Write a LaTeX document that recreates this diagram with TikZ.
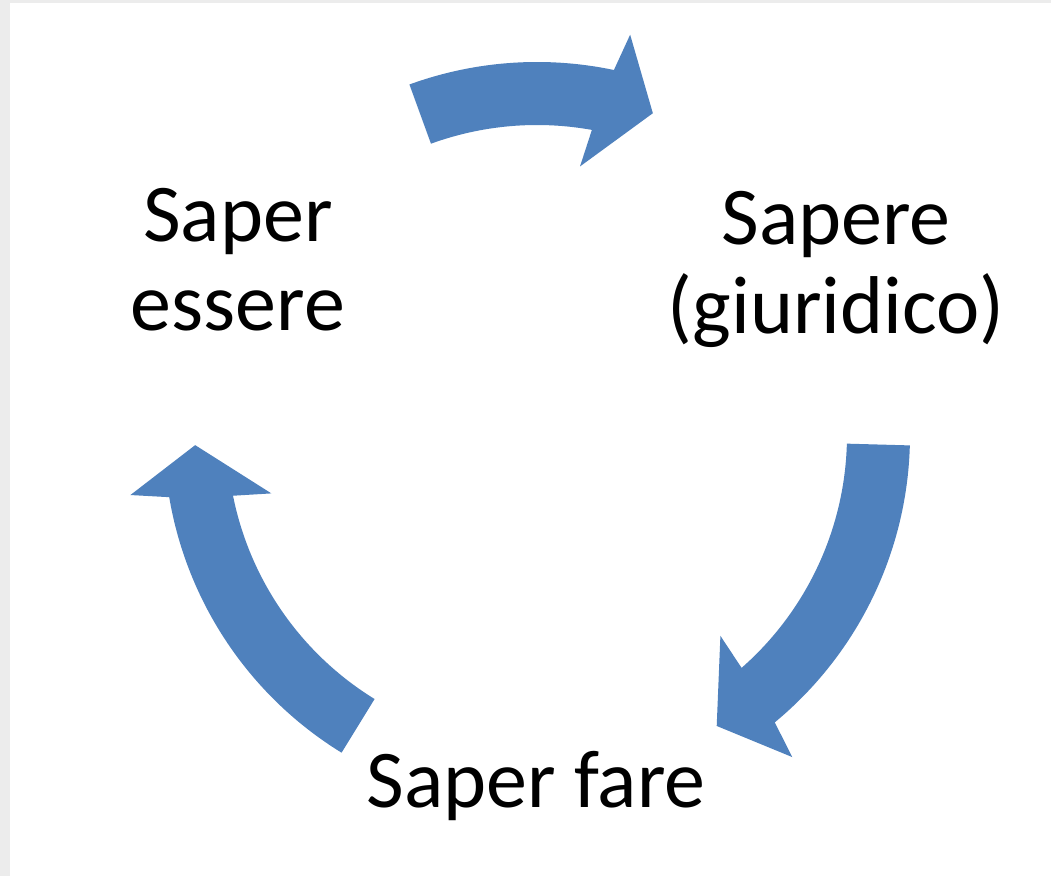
\documentclass[tikz,border=0pt]{standalone}
\usepackage{fontspec}
\setmainfont{Carlito}
\definecolor{arrowblue}{HTML}{4F81BD}
\definecolor{pagegray}{HTML}{ECECEC}
\tikzset{
  arrowfill/.style={fill=arrowblue, draw=none},
  labeltext/.style={inner sep=0pt, align=center, text=black, font=\fontsize{82}{89}\selectfont}
}
\newcommand\cycarrow[2]{%
  \fill[arrowfill] (#1:373pt) arc[start angle=#1, end angle={#2+7.9}, radius=373pt]
    -- ({#2+6.7}:411pt) -- (#2:342pt) -- ({#2+10.7}:272pt) -- ({#2+9.6}:310pt)
    arc[start angle={#2+9.6}, end angle=#1, radius=310pt] -- cycle;}
\begin{document}
\begin{tikzpicture}[x=1pt,y=1pt]
  \fill[pagegray] (0,0) rectangle (1051,876);
  \fill[white] (10,0) rectangle (1051,873);
  \useasboundingbox (0,0) rectangle (1051,876);
  \begin{scope}[shift={(537,441)}]
    \cycarrow{110}{70.2}
    \cycarrow{-1.6}{-58.3}
    \cycarrow{238.4}{181.7}
  \end{scope}
  \node[labeltext] (se) at (238,616) {Saper\\essere};
  \node[labeltext] (sg) at (836,607) {Sapere\\(giuridico)};
  \node[labeltext, anchor=base] (sf) at (536,69) {Saper fare};
\end{tikzpicture}
\end{document}
